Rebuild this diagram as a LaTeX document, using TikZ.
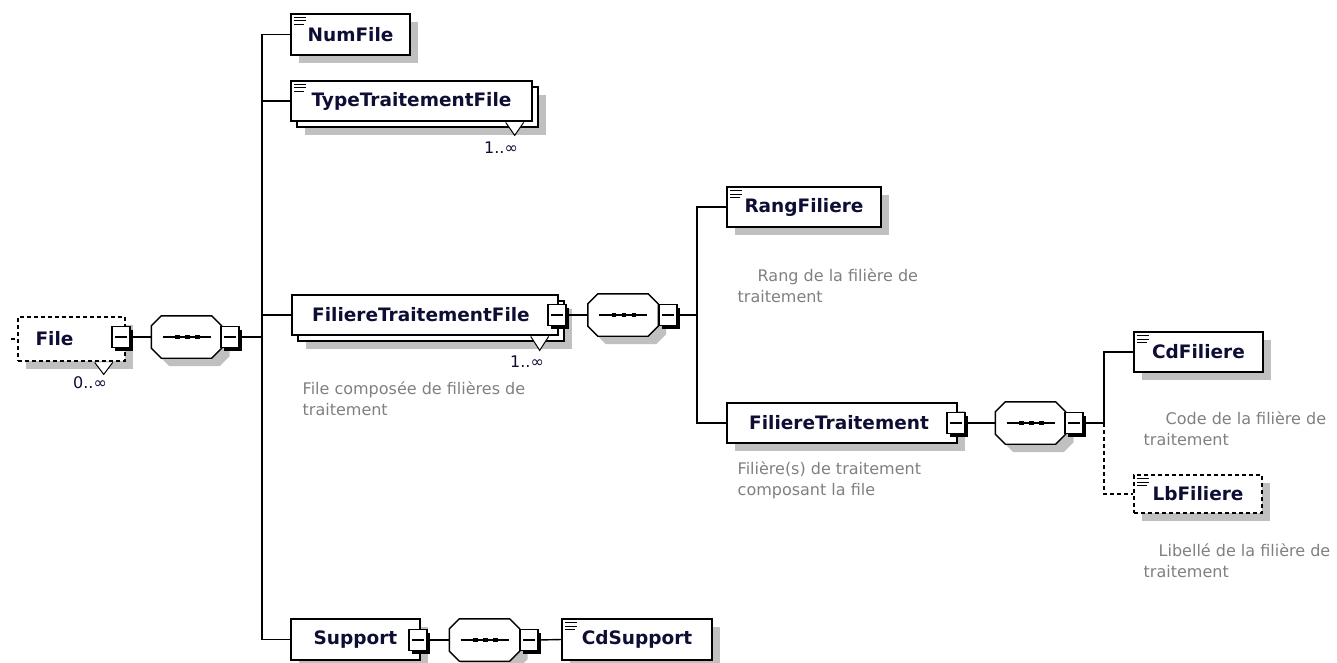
\documentclass[tikz,border=0pt]{standalone}
\usepackage{fontspec}
\setmainfont{DejaVu Sans}
\usetikzlibrary{shadows}
\definecolor{shade}{RGB}{192,192,192}
\definecolor{doc}{RGB}{128,128,128}
\definecolor{ink}{RGB}{14,14,52}
% sequence compositor: named node, octagon, dots
\newcommand\seqnode[2]{%
  \node[seq] (#1) at (#2) {};
  \draw[fill=white,general shadow={fill=shade,shadow xshift=8pt,shadow yshift=-8pt}]
    ([xshift=10pt]#1.north west) -- ([xshift=-10pt]#1.north east) -- ([yshift=-10pt]#1.north east)
    -- ([yshift=10pt]#1.south east) -- ([xshift=-10pt]#1.south east) -- ([xshift=10pt]#1.south west)
    -- ([yshift=10pt]#1.south west) -- ([yshift=-10pt]#1.north west) -- cycle;
  \draw[line width=1.1pt] ([xshift=-24pt]#1.center) -- ([xshift=24pt]#1.center);
  \foreach \d in {-9pt,1pt,11pt}
    \fill[black] ([shift={(\d-2.4pt,-2.4pt)}]#1.center) rectangle ++(4.8pt,4.8pt);}
\begin{document}
\begin{tikzpicture}[x=1pt,y=-1pt,line width=1.4pt,
    box/.style={draw,fill=white,inner sep=0pt,text=ink,font=\bfseries\fontsize{18.5}{20}\selectfont},
    single/.style={box,general shadow={fill=shade,shadow xshift=8pt,shadow yshift=-8pt}},
    multi/.style={box,general shadow={fill=shade,shadow xshift=14pt,shadow yshift=-14pt},
        general shadow={draw=black,fill=white,line width=1.4pt,shadow xshift=6pt,shadow yshift=-6pt}},
    simple/.style={path picture={
        \foreach \d/\l in {3.5pt/12pt,7pt/12pt,10.5pt/10pt}
        \draw[solid,line width=1pt] ([shift={(3pt,-\d)}]path picture bounding box.north west) -- ++(\l,0);}},
    optdash/.style={dash pattern=on 4pt off 3pt},
    expbox/.style={draw,fill=white,minimum width=18pt,minimum height=21pt,inner sep=0pt,
        general shadow={fill=black,shadow xshift=3pt,shadow yshift=-3pt},
        path picture={\draw[line width=1.1pt] ([xshift=-6pt]path picture bounding box.center) -- ++(12pt,0);}},
    seq/.style={minimum width=69pt,minimum height=41pt,inner sep=0pt},
    mult/.style={text=ink,font=\fontsize{16}{20}\selectfont,inner sep=0pt},
    note/.style={text=doc,font=\fontsize{16}{21}\selectfont,align=left,anchor=north west,inner sep=0pt}]
\useasboundingbox (0,0) rectangle (1337,663);

% File
\node[single,optdash,minimum width=107pt,minimum height=44pt] (file) at (71.5,339) {File\hspace*{34pt}};
\node[expbox] (fileexp) at (121,337) {};
\node[mult] (filemult) at (90,383) {0..∞};
\coordinate (filestub) at (11,339);
\seqnode{seq1}{186.5,337}
\node[expbox] (seq1exp) at (230,337) {};
\coordinate (t1) at (262,337);

% children of File
\node[single,simple,minimum width=119pt,minimum height=41pt] (numfile) at (350.5,34.5) {NumFile};
\node[multi,simple,minimum width=241pt,minimum height=40pt] (ttf) at (411.5,101) {TypeTraitementFile};
\node[mult] (ttfmult) at (501,148) {1..∞};
\node[multi,minimum width=266pt,minimum height=40pt] (ftf) at (425,315) {FiliereTraitementFile\hspace*{8pt}};
\node[expbox] (ftfexp) at (557,315) {};
\node[mult] (ftfmult) at (527,362) {1..∞};
\node[note] (ftfdoc) at (302,381) {File composée de filières de\\traitement};
\node[single,minimum width=129pt,minimum height=41pt] (support) at (355.5,639.5) {Support};
\node[expbox] (supexp) at (418,640) {};
\seqnode{seq4}{484.5,640}
\node[expbox] (seq4exp) at (529,640) {};
\node[single,simple,minimum width=150pt,minimum height=41pt] (cdsup) at (637,639.5) {CdSupport};

% FiliereTraitementFile
\seqnode{seq2}{623,315}
\node[expbox] (seq2exp) at (668,315) {};
\coordinate (t2) at (697,315);
\node[single,simple,minimum width=154pt,minimum height=40pt] (rang) at (804,207) {RangFiliere};
\node[note] (rangdoc) at (737,268) {\hspace*{20pt}Rang de la filière de\\traitement};
\node[single,minimum width=230pt,minimum height=40pt] (ft) at (842,423) {FiliereTraitement\hspace*{6pt}};
\node[expbox] (ftexp) at (956,423) {};
\node[note] (ftdoc) at (737,461) {Filière(s) de traitement\\composant la file};

% FiliereTraitement
\seqnode{seq3}{1030.5,423}
\node[expbox] (seq3exp) at (1074,423) {};
\coordinate (t3) at (1104,423);
\node[single,simple,minimum width=129pt,minimum height=40pt] (cdfil) at (1198.5,352) {CdFiliere};
\node[note] (cddoc) at (1143,411) {\hspace*{22pt}Code de la filière de\\traitement};
\node[single,simple,optdash,minimum width=128pt,minimum height=38pt] (lbfil) at (1198,494) {LbFiliere};
\node[note] (lbdoc) at (1143,543) {\hspace*{15pt}Libellé de la filière de\\traitement};

% occurrence marks
\draw[fill=white,line width=1pt] ([shift={(-31pt,-0.7pt)}]file.south east) -- ++(9pt,-12pt) -- ++(9pt,12pt);
\draw[fill=white,line width=1pt] ([shift={(-27pt,-0.7pt)}]ttf.south east) -- ++(9pt,-13pt) -- ++(9pt,13pt);
\draw[fill=white,line width=1pt] ([shift={(-28pt,-0.7pt)}]ftf.south east) -- ++(9pt,-14pt) -- ++(9pt,14pt);

% links
\draw[optdash] (filestub) -- (file.west);
\draw (fileexp.east) -- (seq1.west);
\draw (seq1exp.east) -- (t1);
\foreach \n in {numfile,ttf,ftf,support}
    \draw (t1) |- (\n.west);
\draw (ftfexp.east) -- (seq2.west);
\draw (seq2exp.east) -- (t2);
\foreach \n in {rang,ft}
    \draw (t2) |- (\n.west);
\draw (ftexp.east) -- (seq3.west);
\draw (seq3exp.east) -- (t3);
\draw (t3) |- (cdfil.west);
\draw[optdash] (t3) |- (lbfil.west);
\draw (supexp.east) -- (seq4.west);
\draw (seq4exp.east) -- (cdsup.west);
\end{tikzpicture}
\end{document}
